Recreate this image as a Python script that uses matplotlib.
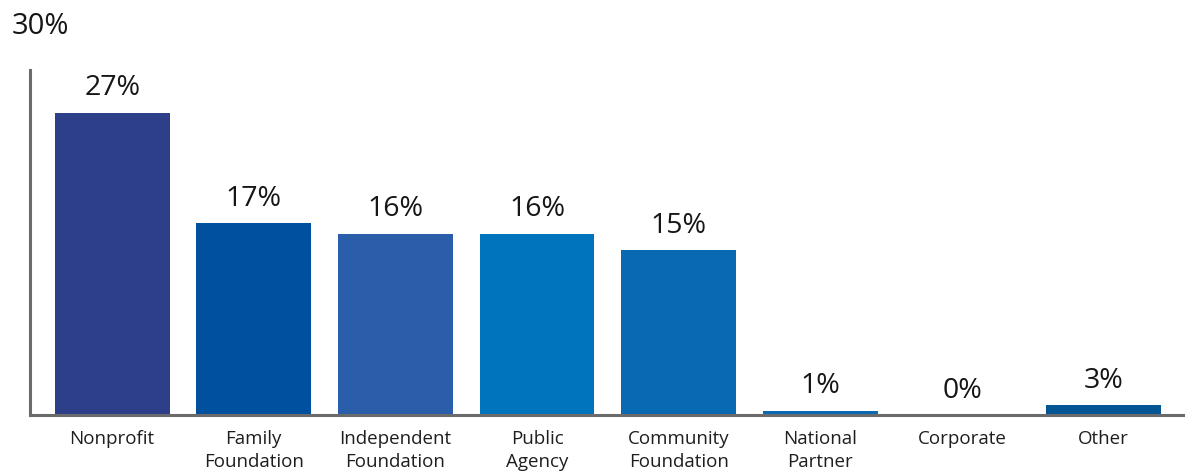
import matplotlib
matplotlib.use("Agg")
import matplotlib.pyplot as plt

categories = ["Nonprofit", "Family\nFoundation", "Independent\nFoundation", "Public\nAgency",
              "Community\nFoundation", "National\nPartner", "Corporate", "Other"]
bar_values = [27.0, 17.1, 16.2, 16.2, 14.7, 0.4, 0.0, 0.9]
value_labels = ["27%", "17%", "16%", "16%", "15%", "1%", "0%", "3%"]
colors = ["#2E3F8A", "#0050A0", "#2A5DAA", "#0074BD", "#0A69B3", "#0A69B3", "#0A69B3", "#045593"]
axis_top_label = "30%"

plt.rcParams['font.family'] = ['Open Sans', 'DejaVu Sans']

fig = plt.figure(figsize=(11.94, 4.74), dpi=100)
ax = fig.add_axes([30/1194, 59/474, 1153/1194, 345/474])

x = list(range(len(categories)))
bars = ax.bar(x, bar_values, width=0.81, color=colors, zorder=2)
for xi, v, lab in zip(x, bar_values, value_labels):
    ax.annotate(lab, (xi, v), xytext=(0, 7.5), textcoords="offset points",
                ha="center", va="bottom", fontsize=20.5, color="#161616")

ax.set_xlim(-0.58, 7.56)
ax.set_ylim(0, 30.8)
ax.set_xticks(x)
ax.set_xticklabels(categories, fontsize=13.5, color="#1e1e1e", linespacing=1.32)
ax.tick_params(axis="x", length=0, pad=11)
ax.set_yticks([])
for s in ["top", "right"]:
    ax.spines[s].set_visible(False)
for s in ["left", "bottom"]:
    ax.spines[s].set_color("#6b6b6b")
    ax.spines[s].set_linewidth(2.2)

fig.text(12/1194, 1 - 27/474, axis_top_label, ha="left", va="center", fontsize=21, color="#161616")

fig.savefig("out.png", dpi=100)
